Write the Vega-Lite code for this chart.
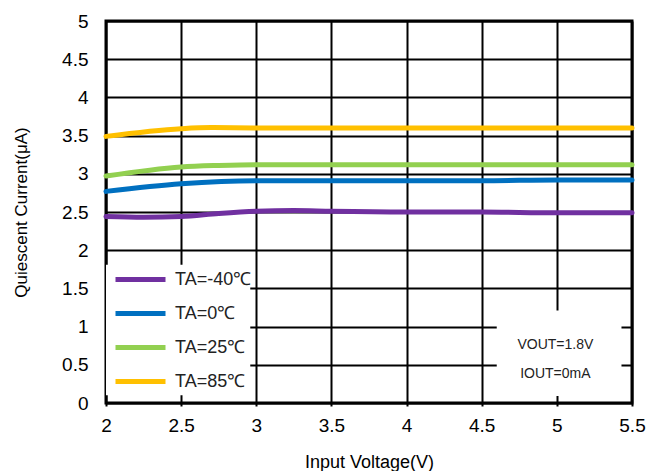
{
  "$schema": "https://vega.github.io/schema/vega-lite/v6.json",
  "width": 526,
  "height": 382,
  "autosize": "none",
  "padding": {"left": 106, "top": 21, "right": 27, "bottom": 68},
  "background": "white",
  "config": {
    "view": {"stroke": "black", "strokeWidth": 3},
    "font": "Liberation Sans"
  },
  "datasets": {
    "curves": [
      {"v": 2.0, "i": 2.44, "s": "TA=-40℃"},
      {"v": 2.25, "i": 2.43, "s": "TA=-40℃"},
      {"v": 2.5, "i": 2.44, "s": "TA=-40℃"},
      {"v": 2.75, "i": 2.48, "s": "TA=-40℃"},
      {"v": 3.0, "i": 2.51, "s": "TA=-40℃"},
      {"v": 3.25, "i": 2.52, "s": "TA=-40℃"},
      {"v": 3.5, "i": 2.51, "s": "TA=-40℃"},
      {"v": 4.0, "i": 2.5, "s": "TA=-40℃"},
      {"v": 4.5, "i": 2.5, "s": "TA=-40℃"},
      {"v": 5.0, "i": 2.49, "s": "TA=-40℃"},
      {"v": 5.5, "i": 2.49, "s": "TA=-40℃"},
      {"v": 2.0, "i": 2.77, "s": "TA=0℃"},
      {"v": 2.5, "i": 2.87, "s": "TA=0℃"},
      {"v": 3.0, "i": 2.91, "s": "TA=0℃"},
      {"v": 3.5, "i": 2.91, "s": "TA=0℃"},
      {"v": 4.0, "i": 2.91, "s": "TA=0℃"},
      {"v": 4.5, "i": 2.91, "s": "TA=0℃"},
      {"v": 5.0, "i": 2.92, "s": "TA=0℃"},
      {"v": 5.5, "i": 2.92, "s": "TA=0℃"},
      {"v": 2.0, "i": 2.97, "s": "TA=25℃"},
      {"v": 2.5, "i": 3.09, "s": "TA=25℃"},
      {"v": 2.75, "i": 3.11, "s": "TA=25℃"},
      {"v": 3.0, "i": 3.12, "s": "TA=25℃"},
      {"v": 3.5, "i": 3.12, "s": "TA=25℃"},
      {"v": 4.0, "i": 3.12, "s": "TA=25℃"},
      {"v": 4.5, "i": 3.12, "s": "TA=25℃"},
      {"v": 5.0, "i": 3.12, "s": "TA=25℃"},
      {"v": 5.5, "i": 3.12, "s": "TA=25℃"},
      {"v": 2.0, "i": 3.49, "s": "TA=85℃"},
      {"v": 2.5, "i": 3.59, "s": "TA=85℃"},
      {"v": 2.7, "i": 3.605, "s": "TA=85℃"},
      {"v": 3.0, "i": 3.6, "s": "TA=85℃"},
      {"v": 3.5, "i": 3.6, "s": "TA=85℃"},
      {"v": 4.0, "i": 3.6, "s": "TA=85℃"},
      {"v": 4.5, "i": 3.6, "s": "TA=85℃"},
      {"v": 5.0, "i": 3.6, "s": "TA=85℃"},
      {"v": 5.5, "i": 3.6, "s": "TA=85℃"}
    ],
    "box": [
      {"x1": 4.6, "x2": 5.43, "y1": 0.09, "y2": 1.21},
      {"x1": 2.0, "x2": 2.96, "y1": 0.1, "y2": 1.81}
    ],
    "notes": [
      {"x": 4.99, "y": 0.76, "t": "VOUT=1.8V"},
      {"x": 4.99, "y": 0.38, "t": "IOUT=0mA"}
    ]
  },
  "layer": [
    {
      "data": {"name": "box"},
      "mark": {"type": "rect", "fill": "white", "stroke": null},
      "encoding": {
        "x": {
          "field": "x1", "type": "quantitative",
          "scale": {"domain": [2, 5.5], "nice": false, "zero": false},
          "axis": {
            "title": "Input Voltage(V)", "values": [2, 2.5, 3, 3.5, 4, 4.5, 5, 5.5], "tickCount": 20,
            "format": "~g", "labelOverlap": false,
            "grid": true, "gridColor": "black", "gridWidth": 2, "gridOpacity": 1,
            "domain": false, "ticks": true, "tickColor": "black", "tickWidth": 2, "tickSize": 3,
            "labelFontSize": 19, "labelColor": "black", "labelPadding": 10, "labelFlush": false,
            "titleFontSize": 18, "titleFontWeight": "normal", "titleColor": "black", "titlePadding": 18
          }
        },
        "x2": {"field": "x2"},
        "y": {
          "field": "y1", "type": "quantitative",
          "scale": {"domain": [0, 5], "nice": false},
          "axis": {
            "title": "Quiescent Current(μA)", "values": [0, 0.5, 1, 1.5, 2, 2.5, 3, 3.5, 4, 4.5, 5], "tickCount": 20,
            "format": "~g", "labelOverlap": false,
            "grid": true, "gridColor": "black", "gridWidth": 2, "gridOpacity": 1,
            "domain": false, "ticks": false,
            "labelFontSize": 19, "labelColor": "black", "labelPadding": 18, "labelFlush": false,
            "titleFontSize": 17, "titleFontWeight": "normal", "titleColor": "black", "titlePadding": 31
          }
        },
        "y2": {"field": "y2"}
      }
    },
    {
      "data": {"name": "notes"},
      "mark": {"type": "text", "fontSize": 14, "align": "center", "baseline": "middle", "color": "#222"},
      "encoding": {
        "x": {"field": "x", "type": "quantitative"},
        "y": {"field": "y", "type": "quantitative"},
        "text": {"field": "t"}
      }
    },
    {
      "data": {"name": "curves"},
      "mark": {"type": "line", "interpolate": "monotone", "strokeWidth": 5, "strokeCap": "round"},
      "encoding": {
        "x": {"field": "v", "type": "quantitative"},
        "y": {"field": "i", "type": "quantitative"},
        "color": {
          "field": "s", "type": "nominal",
          "scale": {
            "domain": ["TA=-40℃", "TA=0℃", "TA=25℃", "TA=85℃"],
            "range": ["#7030A0", "#0070C0", "#92D050", "#FFC000"]
          },
          "legend": {
            "title": null, "orient": "none", "legendX": 13.5, "legendY": 237.5,
            "padding": 6,
            "symbolType": "M-2,0H2", "symbolSize": 625, "symbolStrokeWidth": 5,
            "rowPadding": 9, "labelFontSize": 18, "labelColor": "#222", "labelOffset": 19.5
          }
        }
      }
    }
  ]
}
